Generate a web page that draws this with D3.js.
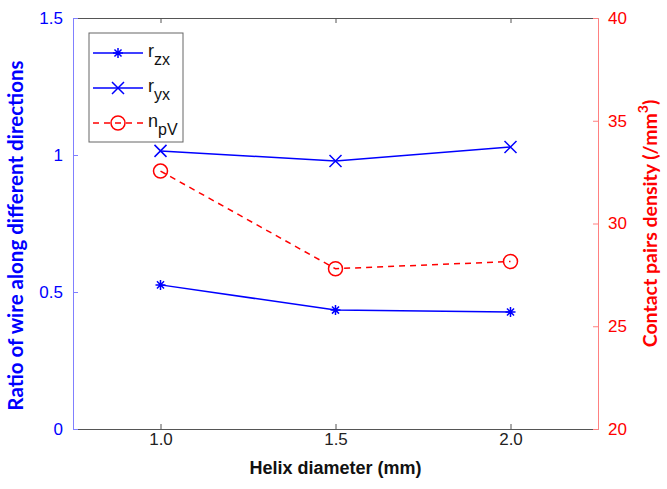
<!DOCTYPE html>
<html>
<head>
<meta charset="utf-8">
<script src="https://cdn.jsdelivr.net/npm/d3@7"></script>
<style>
  body { margin: 0; background: #fff; }
  svg text { font-family: "Liberation Sans", Arial, sans-serif; }
</style>
</head>
<body>
<svg id="chart" width="667" height="489"></svg>
<script>
const diameters = [1.0, 1.5, 2.0];
const rzx = [0.526, 0.434, 0.427];
const ryx = [1.015, 0.978, 1.029];
const npv = [32.55, 27.8, 28.15];
const xTicks = [1.0, 1.5, 2.0];
const leftTicks = [0, 0.5, 1, 1.5];
const rightTicks = [20, 25, 30, 35, 40];

const svg = d3.select("#chart");
const margin = { top: 18, right: 69, bottom: 60, left: 73 };
const width = 667, height = 489;

const x = d3.scaleLinear().domain([0.75, 2.25]).range([margin.left, width - margin.right]);
const yL = d3.scaleLinear().domain([0, 1.5]).range([height - margin.bottom, margin.top]);
const yR = d3.scaleLinear().domain([20, 40]).range([height - margin.bottom, margin.top]);

const gray = "#555";
const blueAxis = "#8080ff";
const redAxis = "#ff8080";

// bottom and top axes
const xb = svg.append("g")
    .attr("transform", `translate(0,${height - margin.bottom})`)
    .call(d3.axisBottom(x).tickValues(xTicks).tickFormat(d3.format(".1f")).tickSizeInner(-5).tickSizeOuter(0).tickPadding(4));
xb.select(".domain").attr("stroke", gray);
xb.selectAll(".tick line").attr("stroke", gray);
xb.selectAll(".tick text").attr("font-size", 17).attr("fill", "#222");

const xt = svg.append("g")
    .attr("transform", `translate(0,${margin.top})`)
    .call(d3.axisTop(x).tickValues(xTicks).tickFormat("").tickSizeInner(-5).tickSizeOuter(0));
xt.select(".domain").attr("stroke", gray);
xt.selectAll(".tick line").attr("stroke", gray);

// left axis
const yl = svg.append("g")
    .attr("transform", `translate(${margin.left},0)`)
    .call(d3.axisLeft(yL).tickValues(leftTicks).tickFormat(d3.format("")).tickSizeInner(-5).tickSizeOuter(0).tickPadding(10));
yl.select(".domain").attr("stroke", blueAxis);
yl.selectAll(".tick line").attr("stroke", blueAxis);
yl.selectAll(".tick text").attr("font-size", 17).attr("fill", "#0000ff");

// right axis
const yr = svg.append("g")
    .attr("transform", `translate(${width - margin.right},0)`)
    .call(d3.axisRight(yR).tickValues(rightTicks).tickSizeInner(-5).tickSizeOuter(0).tickPadding(10));
yr.select(".domain").attr("stroke", redAxis);
yr.selectAll(".tick line").attr("stroke", redAxis);
yr.selectAll(".tick text").attr("font-size", 17).attr("fill", "#ff0000");

// axis titles
svg.append("text")
    .attr("x", (margin.left + width - margin.right) / 2)
    .attr("y", 474)
    .attr("text-anchor", "middle")
    .attr("font-size", 18)
    .attr("font-weight", "bold")
    .attr("fill", "#111")
    .text("Helix diameter (mm)");

svg.append("text")
    .attr("transform", `translate(23,${(margin.top + height - margin.bottom) / 2 + 12}) rotate(-90)`)
    .attr("text-anchor", "middle")
    .attr("font-size", 20.5)
    .attr("font-weight", "bold")
    .style("font-family", "Lato, 'Open Sans', sans-serif")
    .attr("fill", "#0000ff")
    .text("Ratio of wire along different directions");

const rt = svg.append("text")
    .attr("transform", `translate(657,${(margin.top + height - margin.bottom) / 2}) rotate(-90)`)
    .attr("text-anchor", "middle")
    .attr("font-size", 19.5)
    .attr("font-weight", "bold")
    .style("font-family", "Lato, 'Open Sans', sans-serif")
    .attr("fill", "#ff0000");
rt.append("tspan").text("Contact pairs density (/mm");
rt.append("tspan").attr("dy", -9).attr("font-size", 14).text("3");
rt.append("tspan").attr("dy", 9).text(")");

// series
const line = yScale => d3.line().x((d, i) => x(diameters[i])).y(d => yScale(d));

svg.append("path").datum(rzx).attr("d", line(yL)).attr("fill", "none").attr("stroke", "#0000ff").attr("stroke-width", 1.5);
svg.append("path").datum(ryx).attr("d", line(yL)).attr("fill", "none").attr("stroke", "#0000ff").attr("stroke-width", 1.5);
svg.append("path").datum(npv).attr("d", line(yR)).attr("fill", "none").attr("stroke", "#ff0000").attr("stroke-width", 1.5).attr("stroke-dasharray", "6,5");

function star(g, cx, cy, r) {
  const p = d3.path();
  for (let k = 0; k < 4; k++) {
    const a = k * Math.PI / 4;
    p.moveTo(cx - r * Math.cos(a), cy - r * Math.sin(a));
    p.lineTo(cx + r * Math.cos(a), cy + r * Math.sin(a));
  }
  g.append("path").attr("d", p.toString()).attr("stroke", "#0000ff").attr("stroke-width", 1.5).attr("fill", "none");
}
function cross(g, cx, cy, r) {
  const p = d3.path();
  p.moveTo(cx - r, cy - r); p.lineTo(cx + r, cy + r);
  p.moveTo(cx - r, cy + r); p.lineTo(cx + r, cy - r);
  g.append("path").attr("d", p.toString()).attr("stroke", "#0000ff").attr("stroke-width", 1.5).attr("fill", "none");
}
function circ(g, cx, cy, r) {
  g.append("circle").attr("cx", cx).attr("cy", cy).attr("r", r).attr("stroke", "#ff0000").attr("stroke-width", 1.5).attr("fill", "none");
}

const marks = svg.append("g");
rzx.forEach((v, i) => star(marks, x(diameters[i]), yL(v), 5));
ryx.forEach((v, i) => cross(marks, x(diameters[i]), yL(v), 6));
npv.forEach((v, i) => circ(marks, x(diameters[i]), yR(v), 7));

// legend
const legend = svg.append("g").attr("transform", "translate(89,33)");
legend.append("rect").attr("width", 94).attr("height", 109).attr("fill", "#fff").attr("stroke", "#666").attr("stroke-width", 1);
const entries = [
  { base: "r", sub: "zx", color: "#0000ff", dash: null, mark: star },
  { base: "r", sub: "yx", color: "#0000ff", dash: null, mark: cross },
  { base: "n", sub: "pV", color: "#ff0000", dash: "6,5", mark: circ }
];
entries.forEach((e, i) => {
  const cy = 20 + i * 35;
  legend.append("line").attr("x1", 4).attr("x2", 54).attr("y1", cy).attr("y2", cy)
      .attr("stroke", e.color).attr("stroke-width", 1.5).attr("stroke-dasharray", e.dash);
  e.mark(legend, 29, cy, e.mark === circ ? 7 : (e.mark === cross ? 6 : 5));
  const t = legend.append("text").attr("x", 59).attr("y", cy + 4).attr("font-size", 18).attr("fill", "#111");
  t.append("tspan").text(e.base);
  t.append("tspan").attr("dy", 8).attr("font-size", 16).text(e.sub);
});
</script>
</body>
</html>
